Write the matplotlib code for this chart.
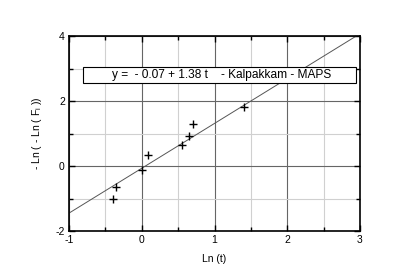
import numpy as np
import matplotlib
matplotlib.use("Agg")
import matplotlib.pyplot as plt
from matplotlib.ticker import MultipleLocator
from matplotlib.patches import Rectangle

plt.rcParams['font.family'] = ['Liberation Sans', 'DejaVu Sans']
plt.rcParams['axes.unicode_minus'] = False

# data
ln_t = [-0.39, -0.35, 0.01, 0.08, 0.55, 0.65, 0.70, 1.41]
ln_ln_f = [-1.02, -0.65, -0.12, 0.35, 0.64, 0.92, 1.28, 1.81]
intercept = -0.07
slope = 1.38

fig = plt.figure(figsize=(4.15, 2.77), dpi=100)
ax = fig.add_axes([69 / 415, 1 - 231 / 277, 291 / 415, 195 / 277])

ax.set_xlim(-1, 3)
ax.set_ylim(-2, 4)
ax.xaxis.set_major_locator(MultipleLocator(1))
ax.xaxis.set_minor_locator(MultipleLocator(0.5))
ax.yaxis.set_major_locator(MultipleLocator(2))
ax.yaxis.set_minor_locator(MultipleLocator(1))

ax.grid(which="major", color="#666666", lw=0.8, zorder=0)
ax.grid(which="minor", color="#d0d0d0", lw=0.8, zorder=0)

for s in ax.spines.values():
    s.set_linewidth(1.2)
ax.tick_params(which="both", direction="in", top=True, right=True,
               labelsize=7.5, pad=3, width=1)
ax.tick_params(which="major", length=4)
ax.tick_params(which="minor", length=3)

t = np.array([-1, 3])
ax.plot(t, intercept + slope * t, color="#555555", lw=0.7, zorder=2)

box = Rectangle((83 / 415, 1 - 83 / 277), (356 - 83) / 415, 16 / 277,
                transform=fig.transFigure, facecolor="white",
                edgecolor="black", lw=0.8, zorder=3)
ax.add_patch(box)
ax.text(221.5 / 415, 1 - 75 / 277,
        "y =  - 0.07 + 1.38 t    - Kalpakkam - MAPS",
        transform=fig.transFigure, ha="center", va="center",
        fontsize=8.6, zorder=4)

ax.plot(ln_t, ln_ln_f, "k+", ms=6, mew=1, zorder=5)

ax.set_xlabel("Ln (t)", fontsize=7.5, labelpad=6)
ax.set_ylabel("- Ln ( - Ln ( F$_\\mathregular{i}$ ))", fontsize=7.5, labelpad=8)

fig.savefig("out.png", dpi=100)
